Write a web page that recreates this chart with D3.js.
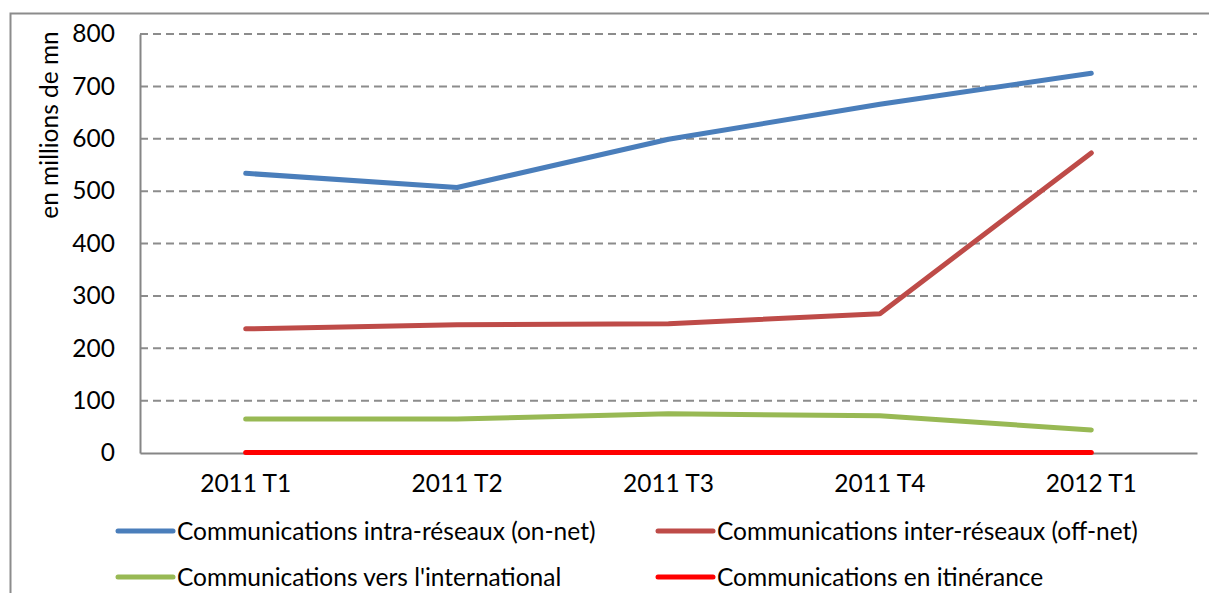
<!DOCTYPE html>
<html>
<head>
<meta charset="utf-8">
<title>Communications</title>
<script src="https://cdn.jsdelivr.net/npm/d3@7/dist/d3.min.js"></script>
<style>
body { margin: 0; background: #fff; }
text { font-family: Lato, "Open Sans", sans-serif; fill: #000; }
.grid line { stroke: #8c8c8c; stroke-width: 2; stroke-dasharray: 8,5; }
</style>
</head>
<body>
<svg></svg>
<script>
var categories = ["2011 T1", "2011 T2", "2011 T3", "2011 T4", "2012 T1"];
var onNet = [534, 507, 599, 666, 725];
var offNet = [237, 245, 247, 266, 573];
var international = [65, 65, 75, 71, 44];
var roaming = [1, 1, 1, 1, 1];
var seriesNames = [
  "Communications intra-réseaux (on-net)",
  "Communications inter-réseaux (off-net)",
  "Communications vers l'international",
  "Communications en itinérance"
];
var yTicks = [0, 100, 200, 300, 400, 500, 600, 700, 800];

var width = 1209, height = 593;
var plotLeft = 140, plotRight = 1197, plotTop = 34, plotBottom = 453;
var fontSize = "24.5px";
var colors = ["#4a7ebb", "#be4b48", "#98b954", "#ff0000"];
var series = [onNet, offNet, international, roaming];

var svg = d3.select("svg").attr("width", width).attr("height", height);

// chart border
svg.append("path")
  .attr("d", "M10.5," + height + "V13.5H" + width)
  .attr("fill", "none").attr("stroke", "#8c8c8c").attr("stroke-width", 2);

var x = d3.scaleBand().domain(categories).range([plotLeft, plotRight]);
var y = d3.scaleLinear().domain([0, 800]).range([plotBottom, plotTop]);

svg.append("g").attr("class", "grid")
  .selectAll("line").data(yTicks.filter(function(d){ return d > 0; }))
  .enter().append("line")
    .attr("x1", plotLeft).attr("x2", plotRight)
    .attr("y1", function(d){ return y(d); }).attr("y2", function(d){ return y(d); });

var yAxis = svg.append("g").attr("transform", "translate(" + plotLeft + ",0)")
  .call(d3.axisLeft(y).tickValues(yTicks).tickSize(0).tickPadding(25));
yAxis.select(".domain").attr("stroke", "#868686").attr("stroke-width", 2);
yAxis.selectAll("text").style("font-size", fontSize).attr("font-family", null);

var xAxis = svg.append("g").attr("transform", "translate(0," + plotBottom + ")")
  .call(d3.axisBottom(x).tickSize(0).tickPadding(22));
xAxis.select(".domain").attr("stroke", "#868686").attr("stroke-width", 2);
xAxis.selectAll("text").style("font-size", fontSize).attr("font-family", null);

svg.append("text")
  .attr("transform", "translate(58,125) rotate(-90)")
  .attr("text-anchor", "middle")
  .style("font-size", fontSize)
  .text("en millions de mn");

var line = d3.line()
  .x(function(d, i){ return x(categories[i]) + x.bandwidth() / 2; })
  .y(function(d){ return y(d); });

series.forEach(function(s, k) {
  svg.append("path")
    .datum(s)
    .attr("d", line)
    .attr("fill", "none")
    .attr("stroke", colors[k])
    .attr("stroke-width", 5)
    .attr("stroke-linecap", "round")
    .attr("stroke-linejoin", "round");
});

// legend, two columns, two rows
var legX = [118, 658], legY = [531, 577];
seriesNames.forEach(function(name, k) {
  var g = svg.append("g")
    .attr("transform", "translate(" + legX[k % 2] + "," + legY[Math.floor(k / 2)] + ")");
  g.append("line").attr("x1", 0).attr("x2", 55)
    .attr("stroke", colors[k]).attr("stroke-width", 5).attr("stroke-linecap", "round");
  g.append("text").attr("x", 59).attr("dy", "0.35em")
    .style("font-size", fontSize).text(name);
});
</script>
</body>
</html>
